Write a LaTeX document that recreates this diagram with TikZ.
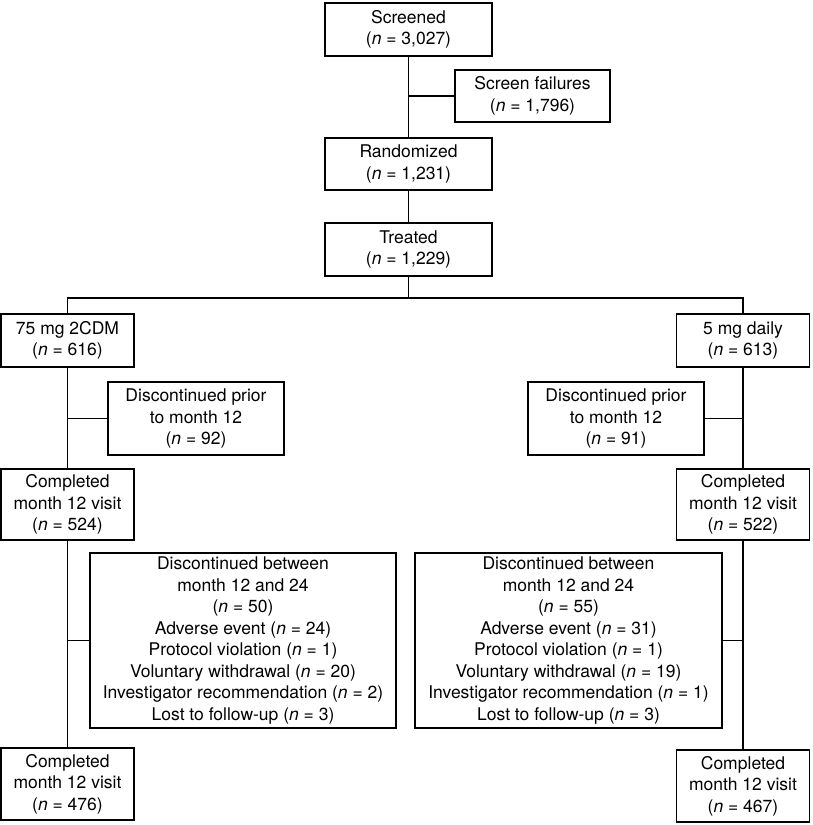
\documentclass[tikz,border=0pt]{standalone}
\usepackage{fontspec}
\setmainfont{TeX Gyre Heros}
\newcommand{\nn}[1]{(\textit{n} = #1)}

\begin{document}
\begin{tikzpicture}[x=1pt,y=-1pt,
	box/.style={draw, line width=1.2pt, align=center, inner sep=0pt, font=\fontsize{17.5}{21.5}\selectfont},
	link/.style={line width=1.2pt}]
	\useasboundingbox (0,0) rectangle (812,825);
	% nodes
	\node[box, minimum width=167pt, minimum height=53pt] (screened) at (408.5,29.5) {Screened\\\nn{3,027}};
	\node[box, minimum width=155pt, minimum height=52pt] (fail) at (532.5,96) {Screen failures\\\nn{1,796}};
	\node[box, minimum width=167pt, minimum height=52pt] (random) at (408.5,164) {Randomized\\\nn{1,231}};
	\node[box, minimum width=167pt, minimum height=53pt] (treated) at (408.5,249.5) {Treated\\\nn{1,229}};
	\coordinate (split) at (408.5,298);
	\node[box, minimum width=133pt, minimum height=53pt] (armA) at (67.5,340.5) {75 mg 2CDM\\\nn{616}};
	\node[box, minimum width=133pt, minimum height=53pt] (armB) at (743,340.5) {5 mg daily\\\nn{613}};
	\node[box, minimum width=176pt, minimum height=73pt] (priorA) at (196,418.5) {Discontinued prior\\to month 12\\\nn{92}};
	\node[box, minimum width=176pt, minimum height=73pt] (priorB) at (616,418.5) {Discontinued prior\\to month 12\\\nn{91}};
	\node[box, minimum width=133pt, minimum height=71pt] (visitA) at (67.5,504.5) {Completed\\month 12 visit\\\nn{524}};
	\node[box, minimum width=133pt, minimum height=71pt] (visitB) at (743,504.5) {Completed\\month 12 visit\\\nn{522}};
	\node[box, minimum width=306pt, minimum height=175pt] (betweenA) at (243,640.5) {Discontinued between\\month 12 and 24\\\nn{50}\\Adverse event \nn{24}\\Protocol violation \nn{1}\\Voluntary withdrawal \nn{20}\\Investigator recommendation \nn{2}\\Lost to follow-up \nn{3}};
	\node[box, minimum width=307pt, minimum height=175pt] (betweenB) at (568.5,640.5) {Discontinued between\\month 12 and 24\\\nn{55}\\Adverse event \nn{31}\\Protocol violation \nn{1}\\Voluntary withdrawal \nn{19}\\Investigator recommendation \nn{1}\\Lost to follow-up \nn{3}};
	\node[box, minimum width=133pt, minimum height=72pt] (finalA) at (67.5,784) {Completed\\month 12 visit\\\nn{476}};
	\node[box, minimum width=133pt, minimum height=72pt] (finalB) at (743,786) {Completed\\month 12 visit\\\nn{467}};
	% connectors
	\draw[link] (screened.south) -- (random.north) (fail.west) -- (fail.west -| screened.south);
	\draw[link] (random.south) -- (treated.north) (treated.south) -- (split);
	\draw[link] (armA.north) |- (split) -| (armB.north);
	\draw[link] (armA.south) -- (visitA.north) (visitA.south) -- (finalA.north);
	\draw[link] (armB.south) -- (visitB.north) (visitB.south) -- (finalB.north);
	\draw[link] (priorA.west) -- (priorA.west -| armA.south) (betweenA.west) -- (betweenA.west -| armA.south);
	\draw[link] (priorB.east) -- (priorB.east -| armB.south) (betweenB.east) -- (betweenB.east -| armB.south);
\end{tikzpicture}
\end{document}
